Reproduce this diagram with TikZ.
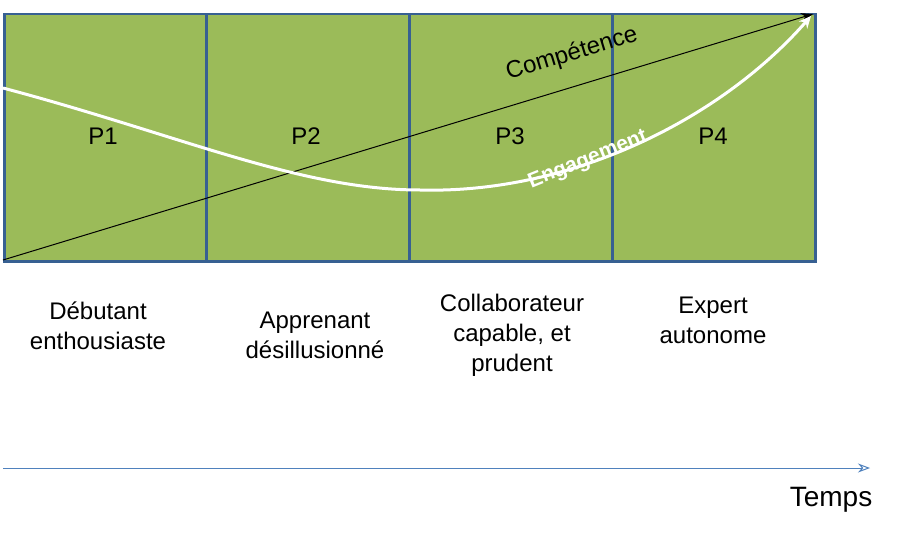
\documentclass[tikz,border=0pt]{standalone}
\usepackage{fontspec}
\setmainfont{Liberation Sans}
\usetikzlibrary{arrows.meta}
\definecolor{boxgreen}{RGB}{155,187,89}
\definecolor{boxblue}{RGB}{55,96,146}
\definecolor{axisblue}{RGB}{79,129,189}
\begin{document}
\begin{tikzpicture}[x=1pt,y=-1pt,
  phase/.style={draw=boxblue,line width=2.5pt,fill=boxgreen,minimum width=203pt,minimum height=247pt,anchor=north west,inner sep=0pt},
  plabel/.style={font=\fontsize{24}{28}\selectfont},
  stage/.style={font=\fontsize{24}{30}\selectfont,align=center}]
\useasboundingbox (0,0) rectangle (914,551);
\node[phase] (b1) at (3,13) {};
\node[phase] (b2) at (205,13) {};
\node[phase] (b3) at (408,13) {};
\node[phase] (b4) at (611,13) {};
\node[plabel] (p1) at (103,136) {P1};
\node[plabel] (p2) at (306,136) {P2};
\node[plabel] (p3) at (510,136) {P3};
\node[plabel] (p4) at (713,136) {P4};
\coordinate (c0) at (3,260);
\coordinate (c1) at (813,14);
\draw[line width=1pt,-{Stealth[length=12pt,width=9pt]}] (c0) -- (c1);
\node[plabel,rotate=16.9] (comp) at (572,54) {Compétence};
\coordinate (e0) at (3,88);
\coordinate (e1) at (420,190);
\coordinate (e2) at (811,16);
\draw[white,line width=3pt,-{Stealth[length=12pt,width=11pt]}] (e0) .. controls (180,135) and (300,190) .. (e1) .. controls (570,194) and (720,120) .. (e2);
\node[white,font=\fontsize{21}{24}\selectfont\bfseries,rotate=22] (eng) at (588,160) {Engagement};
\node[stage] (s1) at (98,326) {Débutant\\enthousiaste};
\node[stage] (s2) at (315,335) {Apprenant\\désillusionné};
\node[stage] (s3) at (512,335) {Collaborateur\\capable, et\\prudent};
\node[stage] (s4) at (713,320) {Expert\\autonome};
\coordinate (t0) at (3,468);
\coordinate (t1) at (870,468);
\draw[axisblue,line width=1pt,-{Stealth[length=12pt,width=9pt,open]}] (t0) -- (t1);
\node[font=\fontsize{28}{32}\selectfont] (temps) at (831,500) {Temps};
\end{tikzpicture}
\end{document}
